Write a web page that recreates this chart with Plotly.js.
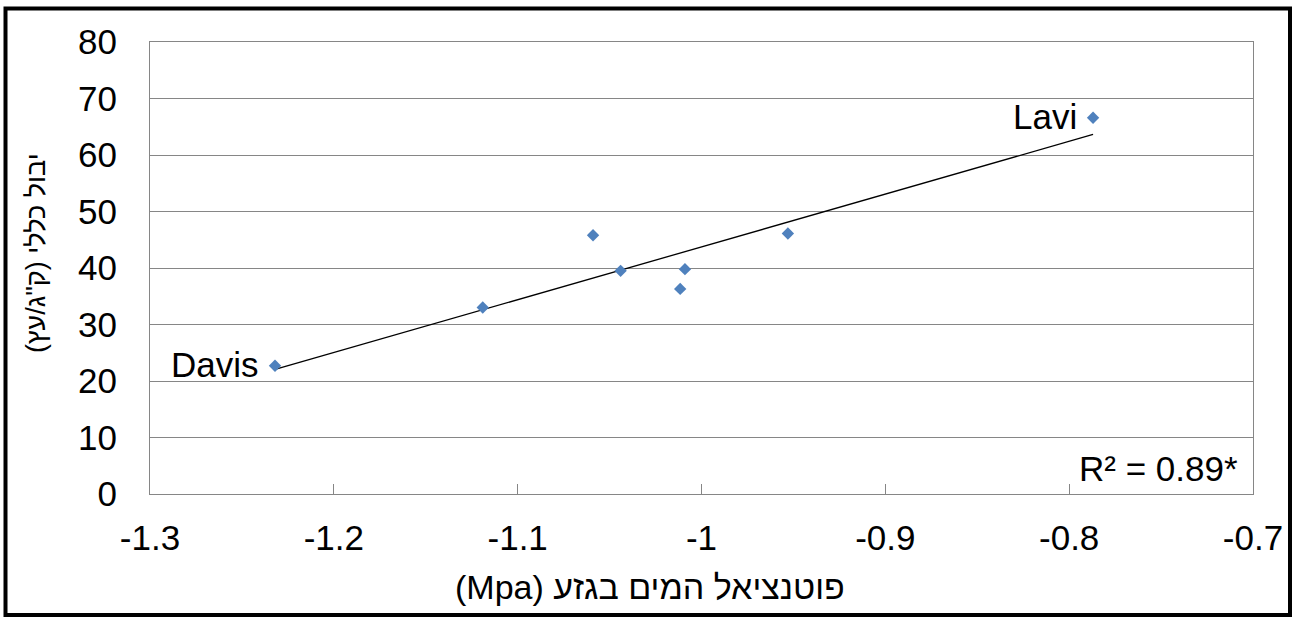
<!DOCTYPE html>
<html>
<head>
<meta charset="utf-8">
<script src="https://cdn.plot.ly/plotly-3.0.1.min.js"></script>
<style>
  html, body { margin: 0; padding: 0; background: #ffffff; }
  #chart { width: 1298px; height: 617px; }
</style>
</head>
<body>
<div id="chart"></div>
<script>
// Data
const waterPotential = [-1.232, -1.119, -1.059, -1.044, -1.0116, -1.009, -0.953, -0.787];
const totalYield     = [22.7,   33.0,   45.8,   39.5,   36.3,    39.8,   46.1,   66.6];
const pointLabels    = ["Davis", "", "", "", "", "", "", "Lavi"];
const xTickValues    = [-1.3, -1.2, -1.1, -1.0, -0.9, -0.8, -0.7];
const xTickLabels    = ["-1.3", "-1.2", "-1.1", "-1", "-0.9", "-0.8", "-0.7"];
const yTickValues    = [0, 10, 20, 30, 40, 50, 60, 70, 80];
const rSquaredText   = "R² = 0.89*";
const xTitleText     = "\u202Bפוטנציאל המים בגזע (Mpa)\u202C";
const yTitleText     = "\u202Bיבול כללי (ק\"ג/עץ)\u202C";

// Linear least-squares trend line from the data
const n = waterPotential.length;
const mx = waterPotential.reduce((a, b) => a + b, 0) / n;
const my = totalYield.reduce((a, b) => a + b, 0) / n;
let sxy = 0, sxx = 0;
for (let i = 0; i < n; i++) {
  sxy += (waterPotential[i] - mx) * (totalYield[i] - my);
  sxx += (waterPotential[i] - mx) ** 2;
}
const slope = sxy / sxx;
const intercept = my - slope * mx;
const xMin = Math.min(...waterPotential), xMax = Math.max(...waterPotential);
const trendX = [xMin, xMax];
const trendY = trendX.map(x => intercept + slope * x);

const FONT = "Liberation Sans, Arial, DejaVu Sans, sans-serif";

const traces = [
  {
    x: trendX, y: trendY, type: "scatter", mode: "lines",
    line: { color: "#000000", width: 1.3 },
    hoverinfo: "skip", showlegend: false
  },
  {
    x: waterPotential, y: totalYield, type: "scatter", mode: "markers",
    marker: { symbol: "diamond", size: 9.5, color: "#4F81BD" },
    showlegend: false
  }
];

const L = 150, R = 45, T = 42, B = 123, W = 1298, H = 617;
const pw = W - L - R, ph = H - T - B;
const px = v => (v - L) / pw;
const py = v => (H - B - v) / ph;

const annotations = [
  { xref: "paper", yref: "paper", x: px(1240), y: py(468), xanchor: "right", yanchor: "middle",
    text: rSquaredText, showarrow: false, font: { family: FONT, size: 35, color: "#000000" } },
  { xref: "paper", yref: "paper", x: px(650), y: py(587), xanchor: "center", yanchor: "middle",
    text: xTitleText, showarrow: false, font: { family: FONT, size: 34, color: "#000000" } },
  { xref: "paper", yref: "paper", x: px(36), y: py(253), xanchor: "center", yanchor: "middle",
    textangle: -90,
    text: yTitleText, showarrow: false, font: { family: FONT, size: 27, color: "#000000" } }
];
pointLabels.forEach((lbl, i) => {
  if (!lbl) return;
  annotations.push({
    x: waterPotential[i], y: totalYield[i], xref: "x", yref: "y",
    xanchor: "right", yanchor: "middle", xshift: -14, yshift: 1,
    text: lbl, showarrow: false, font: { family: FONT, size: 35, color: "#000000" }
  });
});

const layout = {
  width: W, height: H,
  margin: { l: L, r: R, t: T, b: B, pad: 0 },
  paper_bgcolor: "#ffffff", plot_bgcolor: "#ffffff",
  font: { family: FONT, color: "#000000" },
  showlegend: false,
  xaxis: {
    range: [-1.3, -0.7], tickvals: xTickValues, ticktext: xTickLabels,
    showgrid: false, zeroline: false,
    showline: true, linecolor: "#868686", linewidth: 1, mirror: true,
    ticks: "inside", ticklen: 10, tickcolor: "#868686", tickwidth: 1,
    tickfont: { family: FONT, size: 35, color: "#000000" },
    ticklabelstandoff: 13
  },
  yaxis: {
    range: [0, 80], tickvals: yTickValues,
    showgrid: true, gridcolor: "#868686", gridwidth: 1, zeroline: false,
    showline: true, linecolor: "#868686", linewidth: 1, mirror: true,
    ticks: "",
    tickfont: { family: FONT, size: 35, color: "#000000" },
    ticklabelstandoff: 25
  },
  annotations: annotations,
  shapes: [
    { type: "rect", xref: "paper", yref: "paper",
      x0: px(5.5), x1: px(1290), y0: py(615), y1: py(8.5),
      line: { color: "#000000", width: 4 }, fillcolor: "rgba(0,0,0,0)", layer: "above" }
  ]
};

Plotly.newPlot("chart", traces, layout, { displayModeBar: false, staticPlot: true });
</script>
</body>
</html>
